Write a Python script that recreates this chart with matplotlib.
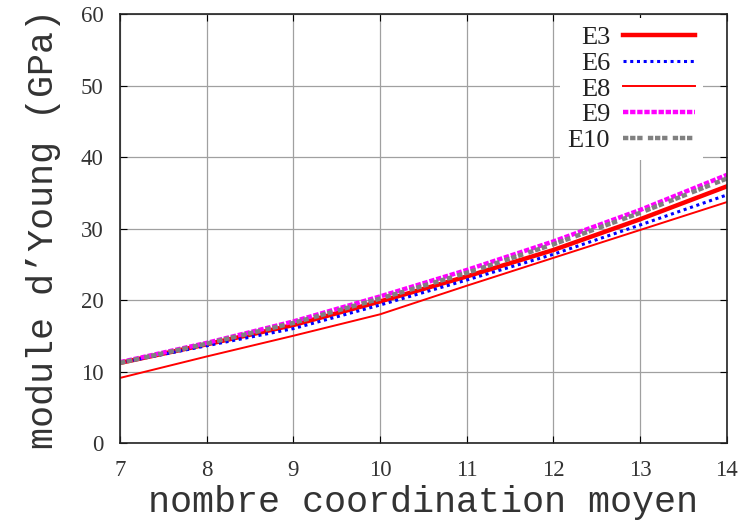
import matplotlib
matplotlib.use("Agg")
import matplotlib.pyplot as plt

# coordination moyenne
z = [7, 8, 9, 10, 11, 12, 13, 14]

# module d'Young (GPa)
E3 = [11.2, 13.8, 16.5, 19.8, 23.3, 27.0, 31.3, 35.9]
E6 = [11.2, 13.6, 16.0, 19.3, 22.8, 26.4, 30.5, 34.7]
E8 = [9.1, 12.1, 15.0, 18.0, 22.0, 25.9, 29.8, 33.7]
E9 = [11.3, 14.0, 17.0, 20.5, 24.2, 28.2, 32.6, 37.5]
E10 = [11.2, 13.9, 16.8, 20.2, 23.8, 27.8, 32.2, 37.0]

xticks = [7, 8, 9, 10, 11, 12, 13, 14]
yticks = [0, 10, 20, 30, 40, 50, 60]

fig = plt.figure(figsize=(7.47, 5.23), dpi=100)
ax = fig.add_axes([0.1606, 0.153, 0.8124, 0.82])

ax.plot(z, E3, color='red', lw=3.2, label='E3')
ax.plot(z, E6, color='blue', lw=2.2, linestyle=(0, (1, 1.2)), label='E6')
ax.plot(z, E8, color='red', lw=1.4, label='E8')
ax.plot(z, E9, color='magenta', lw=3.2, linestyle=(0, (1.2, 0.4)), label='E9')
ax.plot(z, E10, color='gray', lw=3.2, linestyle=(0, (1.2, 0.4, 1.2, 0.4, 1.2, 1.2)), label='E10')

ax.set_xlim(7, 14)
ax.set_ylim(0, 60)
ax.set_xticks(xticks)
ax.set_yticks(yticks)
ax.grid(True, color='#a0a0a0', lw=0.9)
ax.set_axisbelow(True)
ax.tick_params(direction='in', top=True, right=True, length=5, width=0.8, pad=12)
for lab in ax.get_xticklabels() + ax.get_yticklabels():
    lab.set_family('Liberation Serif')
    lab.set_fontsize(16.5)
    lab.set_color('#333333')
for s in ax.spines.values():
    s.set_linewidth(1.2)
    s.set_color('#222222')

ax.set_xlabel('nombre coordination moyen', family='Liberation Mono', fontsize=26.5,
              color='#333333', labelpad=3)
ax.set_ylabel('module d\u2019Young (GPa)', family='Liberation Mono', fontsize=26.5,
              color='#333333', labelpad=14)

leg = ax.legend(loc='upper right', bbox_to_anchor=(0.96, 0.992), markerfirst=False,
                frameon=True, edgecolor='none', facecolor='white', framealpha=1,
                fancybox=False, handlelength=2.7, handletextpad=0.5, labelspacing=0.09,
                borderpad=0.3, borderaxespad=0.0,
                prop={'family': 'Liberation Serif', 'size': 19})
for t in leg.get_texts():
    t.set_color('#222222')

fig.savefig('out.png', dpi=100)
